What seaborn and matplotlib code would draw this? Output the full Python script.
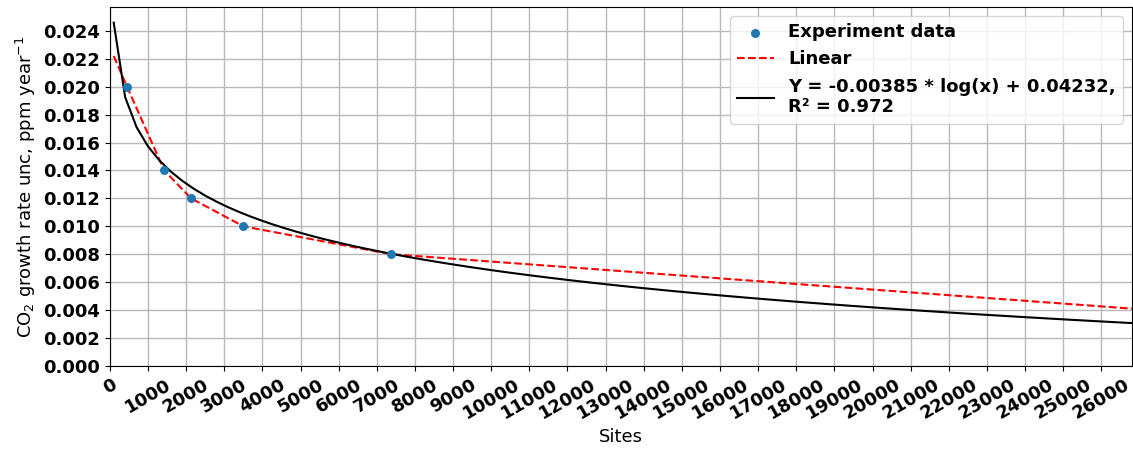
import numpy as np
import pandas as pd
import seaborn as sns
import matplotlib.pyplot as plt

# experiment data
sites = [450, 1425, 2130, 3500, 7380]
unc = [0.020, 0.014, 0.012, 0.010, 0.008]

# dashed "Linear" line, vertices
lin_x = [100, 450, 1425, 2130, 3500, 7380, 26800]
lin_y = [0.0222, 0.020, 0.014, 0.012, 0.010, 0.008, 0.0041]

# log fit given in the legend
a, b, r2 = -0.00385, 0.04232, 0.972
fit_x = np.arange(100, 27100, 300)
fit_y = a * np.log(fit_x) + b

df = pd.DataFrame({"sites": sites, "unc": unc})

fig, ax = plt.subplots(figsize=(11.33, 4.5), dpi=100)
fig.subplots_adjust(left=0.097, right=0.999, top=0.984, bottom=0.187)

sns.scatterplot(data=df, x="sites", y="unc", ax=ax, color="#1f77b4", s=42,
                linewidth=0, label="Experiment data", zorder=3)
sns.lineplot(x=lin_x, y=lin_y, ax=ax, color="red", linestyle="--", lw=1.5,
             label="Linear")
sns.lineplot(x=fit_x, y=fit_y, ax=ax, color="black", lw=1.5,
             label=f"Y = {a} * log(x) + {b},\nR\u00b2 = {r2}")

ax.set_xlim(0, 26800)
ax.set_ylim(0, 0.0257)
ax.set_xticks(np.arange(0, 27000, 1000))
ax.set_yticks(np.arange(0, 0.0245, 0.002))
ax.grid(True, color="#b8b8b8", lw=1)
ax.set_axisbelow(True)
for lab in ax.get_xticklabels():
    lab.set_rotation(30)
    lab.set_fontweight("bold")
    lab.set_fontsize(13)
for lab in ax.get_yticklabels():
    lab.set_fontweight("bold")
    lab.set_fontsize(13)
ax.set_xlabel("Sites", fontsize=13)
ax.set_ylabel("CO$_2$ growth rate unc, ppm year$^{-1}$", fontsize=13)
ax.legend(loc="upper right", prop={"weight": "bold", "size": 13})

plt.savefig("out.png", dpi=100)
